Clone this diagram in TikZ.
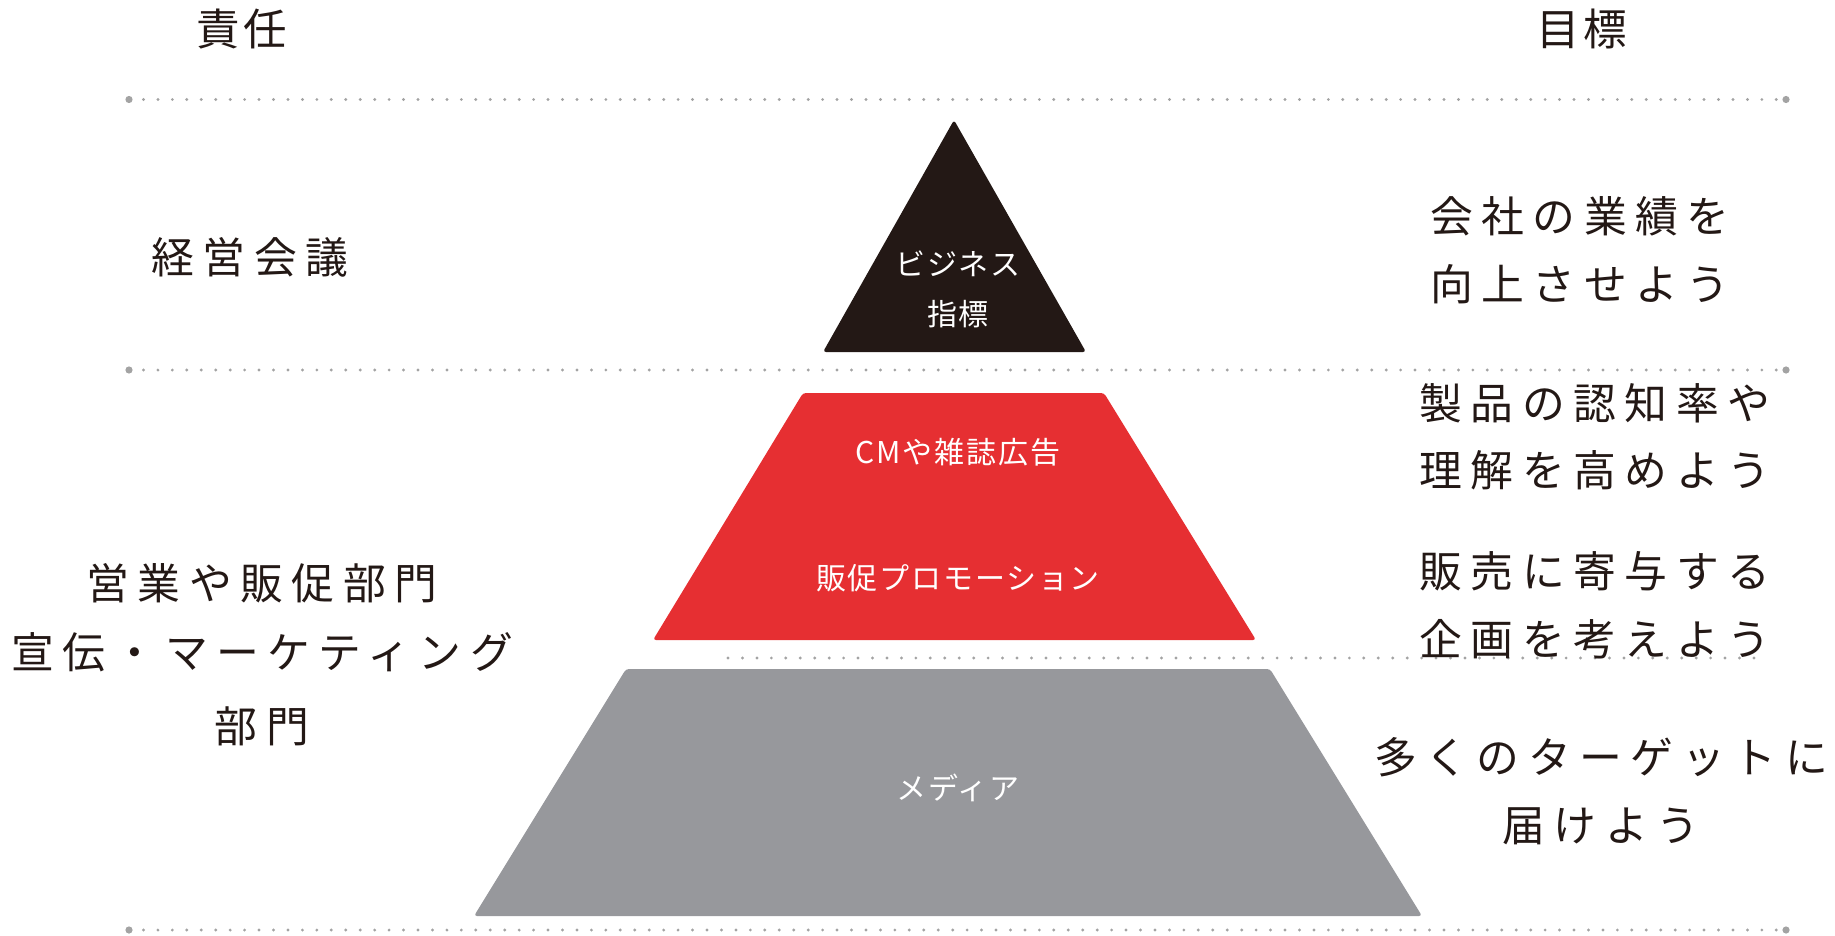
\documentclass[tikz,border=0pt]{standalone}
\usepackage{fontspec}
\newfontfamily\jpwide[LetterSpace=20]{Noto Sans CJK JP}
\newfontfamily\jphead[LetterSpace=9]{Noto Sans CJK JP}
\newfontfamily\jpinner[LetterSpace=6]{Noto Sans CJK JP}
\definecolor{inkblack}{HTML}{231815}
\definecolor{pyrred}{HTML}{E62F32}
\definecolor{pyrgray}{HTML}{97989C}
\definecolor{dotgray}{HTML}{A3A3A3}
\tikzset{
  bigtext/.style={inner sep=0pt, text=inkblack, font=\jpwide\fontsize{42.8}{50}\selectfont},
  headtext/.style={inner sep=0pt, text=inkblack, font=\jphead\fontsize{43.5}{50}\selectfont},
  intext/.style={inner sep=0pt, text=white, font=\jpinner\fontsize{30}{36}\selectfont},
  dotline/.style={draw=dotgray, line width=3.2pt, line cap=round, dash pattern=on 0pt off 14.45pt},
  enddot/.style={fill=dotgray, draw=none},
  tier/.style={draw=none, rounded corners=3pt}
}
\begin{document}
\begin{tikzpicture}[x=1pt,y=-1pt]
\useasboundingbox (0,0) rectangle (1835,936);
% dotted separators
\coordinate (l1a) at (129,99.5); \coordinate (l1b) at (1786,99.5);
\coordinate (l2a) at (129,370); \coordinate (l2b) at (1786,370);
\coordinate (l3a) at (728,658); \coordinate (l3b) at (1763,658);
\coordinate (l4a) at (129,930); \coordinate (l4b) at (1786,930);
\draw[dotline] (l1a) -- (l1b);
\draw[dotline] (l2a) -- (l2b);
\draw[dotline] (l3a) -- (l3b);
\draw[dotline] (l4a) -- (l4b);
\foreach \p in {l1a,l1b,l2a,l2b,l4a,l4b} \fill[enddot] (\p) circle (3.6);
% pyramid tiers
\fill[tier, inkblack] (954,120) -- (1086,352) -- (823,352) -- cycle;
\fill[tier, pyrred] (803,393) -- (1104,393) -- (1256,640) -- (653,640) -- cycle;
\fill[tier, pyrgray] (626,669) -- (1270,669) -- (1422,916) -- (474,916) -- cycle;
% inner labels
\node[intext] (biz) at (958,264) {ビジネス};
\node[intext] (kpi) at (958,314) {指標};
\node[intext] (cm) at (958,452) {CMや雑誌広告};
\node[intext] (promo) at (958,578) {販促プロモーション};
\node[intext] (media) at (958,788) {メディア};
% headers
\node[headtext] (sekinin) at (242,29) {責任};
\node[headtext] (mokuhyo) at (1582,29) {目標};
% left column
\node[bigtext] (keiei) at (250,257) {経営会議};
\node[bigtext] (eigyo) at (262,583) {営業や販促部門};
\node[bigtext] (senden) at (262,652) {宣伝・マーケティング};
\node[bigtext] (bumon) at (262,726) {部門};
% right column
\node[bigtext] (g1a) at (1580,216) {会社の業績を};
\node[bigtext] (g1b) at (1580,284) {向上させよう};
\node[bigtext] (g2a) at (1595,403) {製品の認知率や};
\node[bigtext] (g2b) at (1595,470) {理解を高めよう};
\node[bigtext] (g3a) at (1595,571) {販売に寄与する};
\node[bigtext] (g3b) at (1595,639) {企画を考えよう};
\node[bigtext] (g4a) at (1601,757) {多くのターゲットに};
\node[bigtext] (g4b) at (1601,826) {届けよう};
\end{tikzpicture}
\end{document}
